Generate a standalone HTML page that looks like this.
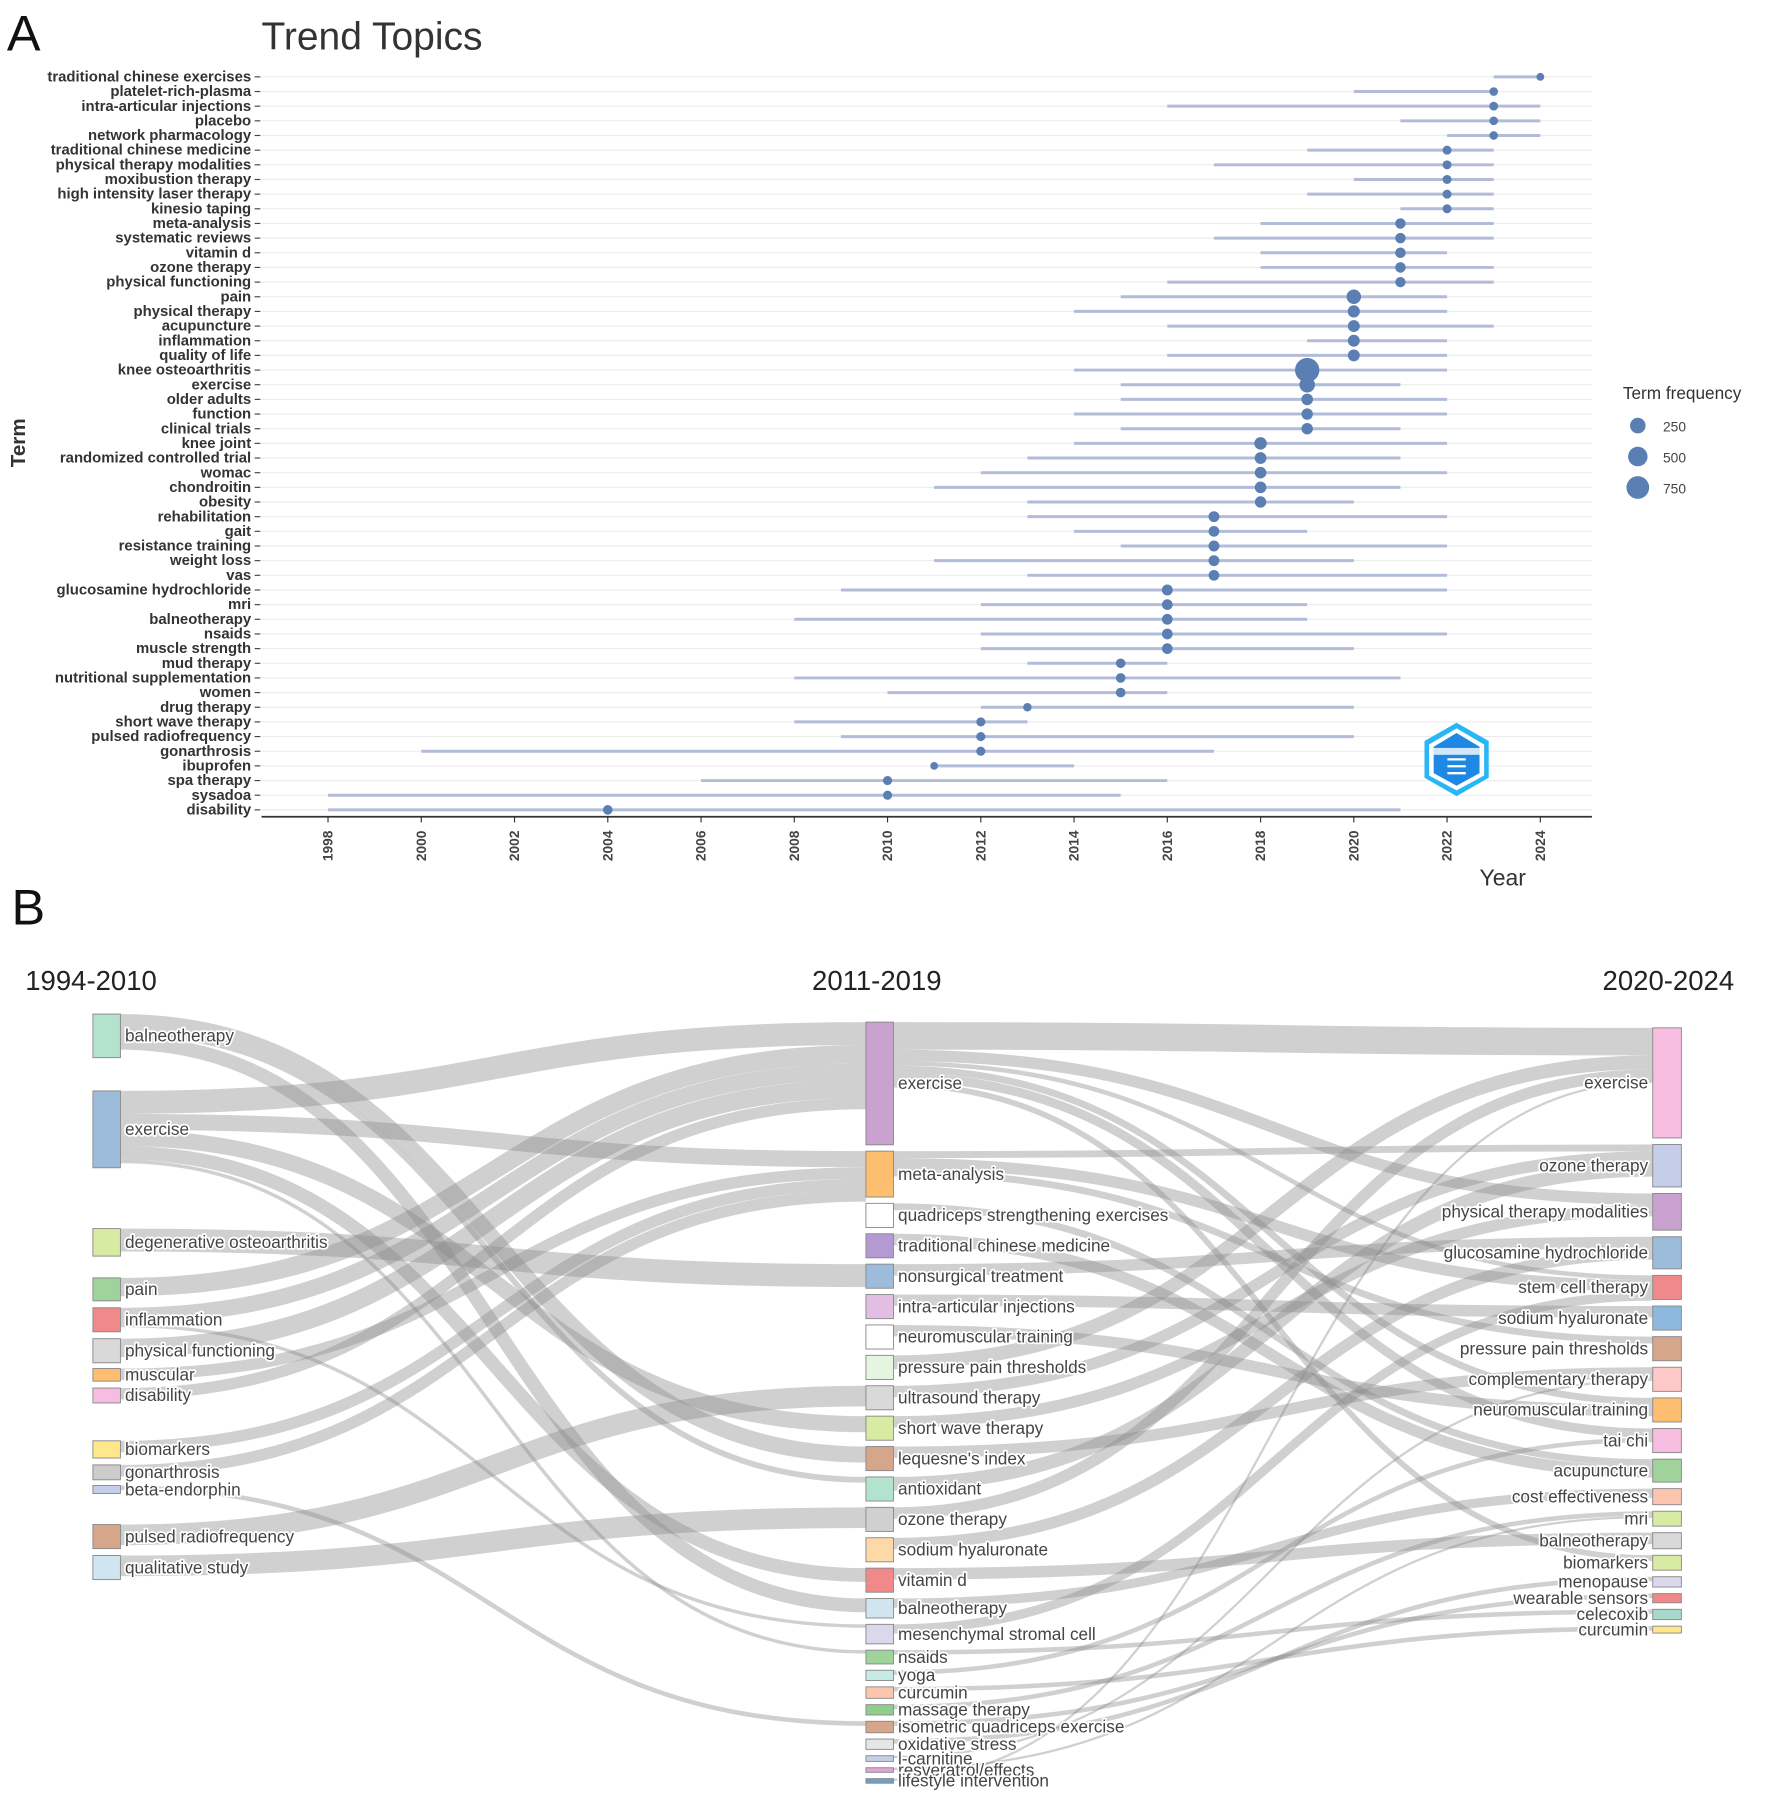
<!DOCTYPE html>
<html><head><meta charset="utf-8">
<style>
html,body{margin:0;padding:0;background:#fff;}
svg{display:block;}
text{font-family:"Liberation Sans",sans-serif;}
.term{font-size:13px;font-weight:bold;fill:#333;}
.tick{font-size:12px;font-weight:bold;fill:#444;}
.sk{font-size:15px;fill:#444;paint-order:stroke;stroke:#fff;stroke-width:3px;stroke-linejoin:round;}
.hdr{font-size:24px;fill:#222;}
</style></head>
<body>
<svg id="root" width="1772" height="1801" viewBox="0 0 1545 1570" preserveAspectRatio="none" xmlns="http://www.w3.org/2000/svg">
<text x="6" y="44" font-size="44" fill="#111">A</text>
<text x="228" y="43" font-size="34" fill="#333">Trend Topics</text>
<g id="gA"></g>
<text x="22" y="386" font-size="18" font-weight="bold" fill="#333" text-anchor="middle" transform="rotate(-90,22,386)">Term</text>
<text x="1290" y="772" font-size="20" fill="#333">Year</text>
<g>
<text x="1415" y="348" font-size="15" fill="#333">Term frequency</text>
<circle cx="1428" cy="371" r="6.8" fill="#5b7fb3"/>
<text x="1450" y="376" font-size="12" fill="#444">250</text>
<circle cx="1428" cy="398" r="8.5" fill="#5b7fb3"/>
<text x="1450" y="403" font-size="12" fill="#444">500</text>
<circle cx="1428" cy="425" r="9.9" fill="#5b7fb3"/>
<text x="1450" y="430" font-size="12" fill="#444">750</text>
</g>
<g>
<polygon points="1270,630 1298,646 1298,678 1270,694 1242,678 1242,646" fill="#29b6f6"/>
<polygon points="1270,635 1294,649 1294,676 1270,689 1246,676 1246,649" fill="#fff"/>
<polygon points="1270,639 1290,651 1290,674 1270,685 1250,674 1250,651" fill="#1e88e5"/>
<rect x="1250" y="652" width="40" height="6" fill="#fff" opacity="0.8"/>
<path d="M1262 662 h16 M1262 668 h16 M1262 674 h16" stroke="#fff" stroke-width="2"/>
</g>
<text x="10" y="806" font-size="44" fill="#111">B</text>
<text x="22" y="863" class="hdr">1994-2010</text>
<text x="708" y="863" class="hdr">2011-2019</text>
<text x="1512" y="863" class="hdr" text-anchor="end">2020-2024</text>
<g id="gB"></g>
</svg>
<script>
// ---------- Chart A data ----------
const terms = ["traditional chinese exercises","platelet-rich-plasma","intra-articular injections","placebo","network pharmacology","traditional chinese medicine","physical therapy modalities","moxibustion therapy","high intensity laser therapy","kinesio taping","meta-analysis","systematic reviews","vitamin d","ozone therapy","physical functioning","pain","physical therapy","acupuncture","inflammation","quality of life","knee osteoarthritis","exercise","older adults","function","clinical trials","knee joint","randomized controlled trial","womac","chondroitin","obesity","rehabilitation","gait","resistance training","weight loss","vas","glucosamine hydrochloride","mri","balneotherapy","nsaids","muscle strength","mud therapy","nutritional supplementation","women","drug therapy","short wave therapy","pulsed radiofrequency","gonarthrosis","ibuprofen","spa therapy","sysadoa","disability"];
const startYear = [2023,2020,2016,2021,2022,2019,2017,2020,2019,2021,2018,2017,2018,2018,2016,2015,2014,2016,2019,2016,2014,2015,2015,2014,2015,2014,2013,2012,2011,2013,2013,2014,2015,2011,2013,2009,2012,2008,2012,2012,2013,2008,2010,2012,2008,2009,2000,2011,2006,1998,1998];
const medianYear = [2024,2023,2023,2023,2023,2022,2022,2022,2022,2022,2021,2021,2021,2021,2021,2020,2020,2020,2020,2020,2019,2019,2019,2019,2019,2018,2018,2018,2018,2018,2017,2017,2017,2017,2017,2016,2016,2016,2016,2016,2015,2015,2015,2013,2012,2012,2012,2011,2010,2010,2004];
const endYear = [2024,2023,2024,2024,2024,2023,2023,2023,2023,2023,2023,2023,2022,2023,2023,2022,2022,2023,2022,2022,2022,2021,2022,2022,2021,2022,2021,2022,2021,2020,2022,2019,2022,2020,2022,2022,2019,2019,2022,2020,2016,2021,2016,2020,2013,2020,2017,2014,2016,2015,2021];
const freq = [12,22,25,22,22,28,28,28,28,28,60,60,60,60,55,200,110,100,100,100,900,250,90,85,85,120,95,90,90,85,70,65,70,70,65,70,65,65,65,65,40,40,40,20,30,30,30,10,30,30,40];
const yearTicks = [1998,2000,2002,2004,2006,2008,2010,2012,2014,2016,2018,2020,2022,2024];

const NS="http://www.w3.org/2000/svg";
function mk(tag, attrs, parent){const e=document.createElementNS(NS,tag);for(const k in attrs)e.setAttribute(k,attrs[k]);parent.appendChild(e);return e;}
const xA = y => 286 + (y-1998)*(1057/26);
const yA = i => 67 + i*(639/50);
const rA = f => 2.5 + 0.27*Math.sqrt(f);
const gA=document.getElementById('gA');
terms.forEach((t,i)=>{
  const g=mk('line',{x1:228,x2:1388,y1:yA(i),y2:yA(i),stroke:'#ececec','stroke-width':1},gA);
  
  
});
yearTicks.forEach(y=>{
  const l=mk('line',{x1:xA(y),x2:xA(y),y1:712,y2:717,stroke:'#333','stroke-width':1},gA);
  
  
  const t=mk('text',{x:xA(y)+4,y:724,class:'tick','text-anchor':'end',transform:`rotate(-90,${xA(y)+4},724)`},gA);
  t.textContent=y;
  
  
});
const ax=mk('line',{x1:228,x2:1388,y1:712,y2:712,stroke:'#333','stroke-width':1.5},gA);


terms.forEach((t,i)=>{
  const y=yA(i);
  const lb=mk('text',{x:219,y:y+4,class:'term','text-anchor':'end'},gA);
  lb.textContent=t;
  
  
  mk('line',{x1:222,x2:227,y1:y,y2:y,stroke:'#444','stroke-width':1},gA);
  const seg=mk('line',{x1:xA(startYear[i]),x2:xA(endYear[i]),y1:y,y2:y,stroke:'#b2bcd9','stroke-width':2.6},gA);
  
  
  const c=mk('circle',{cx:xA(medianYear[i]),cy:y,r:rA(freq[i]),fill:'#5b7fb3'},gA);
  
  
});

// ---------- Chart B data ----------
const leftNames = ["balneotherapy","exercise","degenerative osteoarthritis","pain","inflammation","physical functioning","muscular","disability","biomarkers","gonarthrosis","beta-endorphin","pulsed radiofrequency","qualitative study"];
const leftValues = [38,67,24,20,21,21,11,13,15,13,7,21,21];
const leftColors = ["#b3e2cd","#9dbcdc","#d7eba3","#9fd39b","#f08a8a","#d9d9d9","#fdbf6f","#f6bde0","#fee88b","#cccccc","#c6cde8","#d6a68a","#d1e5f0"];
const leftGaps = [0,29,53,19,6,6,5,6,33,6,5,27,6];
const midNames = ["exercise","meta-analysis","quadriceps strengthening exercises","traditional chinese medicine","nonsurgical treatment","intra-articular injections","neuromuscular training","pressure pain thresholds","ultrasound therapy","short wave therapy","lequesne's index","antioxidant","ozone therapy","sodium hyaluronate","vitamin d","balneotherapy","mesenchymal stromal cell","nsaids","yoga","curcumin","massage therapy","isometric quadriceps exercise","oxidative stress","l-carnitine","resveratrol/effects","lifestyle intervention"];
const midValues = [107,40,21,21,21,21,21,21,21,21,21,21,21,21,21,17,17,12,9,10,9,10,9,5,4,4];
const midColors = ["#c9a2d0","#fdbf6f","#ffffff","#b39ad3","#9dbcdc","#e3bee3","#ffffff","#e5f5e0","#d9d9d9","#d7eba3","#d6a68a","#b3e2cd","#d0d0d0","#fdd9a8","#f08a8a","#d1e5f0","#dcd8ec","#9fd39b","#c5ebe4","#fcc5b0","#8fcf8b","#d6a68a","#e6e6e6","#c6cde8","#e3a3d3","#6f9fc7"];
const rightNames = ["exercise","ozone therapy","physical therapy modalities","glucosamine hydrochloride","stem cell therapy","sodium hyaluronate","pressure pain thresholds","complementary therapy","neuromuscular training","tai chi","acupuncture","cost effectiveness","mri","balneotherapy","biomarkers","menopause","wearable sensors","celecoxib","curcumin"];
const rightValues = [96,37,32,28,21,21,21,21,21,21,20,14,13,14,13,9,8,9,6];
const rightColors = ["#f7bde0","#c6cde8","#c9a2d0","#9dbcdc","#f08a8a","#8eb9df","#d6a68a","#fcc8c8","#fdbf6f","#f6bde0","#9fd39b","#fcc5b0","#d7eba3","#d9d9d9","#d7eba3","#dcd8ec","#f08a8a","#a6d8cc","#fee88b"];
// links: [sourceIndex, targetIndex, value]
const linksLM = [[0,10,14],[0,15,12],[0,11,5],[1,0,20],[1,1,14],[1,9,14],[1,14,12],[1,17,3],[2,4,20],[3,0,16],[4,0,14],[4,16,3],[5,0,16],[6,1,10],[7,0,10],[8,1,10],[9,1,10],[10,21,4],[11,8,18],[12,12,18]];
const linksMR = [[0,0,24],[0,2,10],[0,9,8],[0,14,5],[0,8,6],[0,4,4],[1,4,10],[1,6,6],[1,1,6],[2,10,6],[3,10,10],[4,3,10],[5,5,10],[6,8,10],[7,0,12],[8,1,10],[9,2,10],[10,7,10],[11,1,12],[12,0,10],[13,3,10],[14,13,10],[15,11,8],[16,4,8],[17,17,4],[18,9,4],[19,18,4],[20,12,4],[21,16,4],[22,15,4],[23,7,2],[24,12,2],[25,0,2]];

const gB=document.getElementById('gB');
function stackTops(values,start,gapFn){const ys=[];let y=start;values.forEach((v,i)=>{y+=gapFn(i);ys.push(y);y+=v;});return ys;}
const leftY = stackTops(leftValues,884,i=>leftGaps[i]);
const midY = stackTops(midValues,891,i=>i?5.5:0);
const rightY = stackTops(rightValues,896,i=>i?5.7:0);
const LX=[81,105], MX=[755,779], RX=[1441,1466];
const linkLayer=mk('g',{},gB);
function drawLinks(links,srcY,tgtY,x0,x1){
  const so=srcY.map(()=>0), to=tgtY.map(()=>0);
  const sorted=links.slice().sort((a,b)=>(a[0]-b[0])||(tgtY[a[1]]-tgtY[b[1]]));
  const tOrder=links.slice().sort((a,b)=>(a[1]-b[1])||(srcY[a[0]]-srcY[b[0]]));
  const tPos=new Map();
  tOrder.forEach(l=>{tPos.set(l,tgtY[l[1]]+to[l[1]]+l[2]/2);to[l[1]]+=l[2];});
  sorted.forEach(l=>{
    const ys=srcY[l[0]]+so[l[0]]+l[2]/2; so[l[0]]+=l[2];
    const yt=tPos.get(l); const xm=(x0+x1)/2;
    const p=mk('path',{d:`M${x0},${ys} C${xm},${ys} ${xm},${yt} ${x1},${yt}`,fill:'none',stroke:'#8a8a8a','stroke-opacity':0.4,'stroke-width':l[2]},linkLayer);
    
    
  });
}
drawLinks(linksLM,leftY,midY,LX[1],MX[0]);
drawLinks(linksMR,midY,rightY,MX[1],RX[0]);
function drawNodes(names,values,colors,ys,xs,right){
  names.forEach((n,i)=>{
    const r=mk('rect',{x:xs[0],y:ys[i],width:xs[1]-xs[0],height:values[i],fill:colors[i],stroke:'#888','stroke-width':0.8},gB);
    
    
    const t=mk('text',{x:right?xs[0]-4:xs[1]+4,y:ys[i]+values[i]/2+5,class:'sk','text-anchor':right?'end':'start'},gB);
    t.textContent=n;
    
    
  });
}
drawNodes(leftNames,leftValues,leftColors,leftY,LX,false);
drawNodes(midNames,midValues,midColors,midY,MX,false);
drawNodes(rightNames,rightValues,rightColors,rightY,RX,true);
</script>
</body></html>
